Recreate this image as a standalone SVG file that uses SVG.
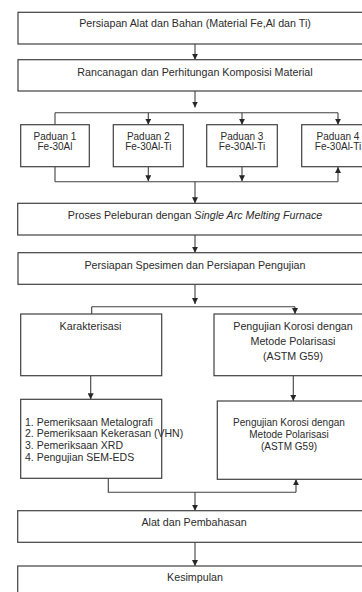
<svg xmlns="http://www.w3.org/2000/svg" width="362" height="592" viewBox="0 0 362 592">
<style>
.box{fill:#fff;stroke:#404040;stroke-width:1.2}
.ln{fill:none;stroke:#404040;stroke-width:1.1}
.ar{fill:none;stroke:#404040;stroke-width:1.1;marker-end:url(#ah)}
text{font-family:"Liberation Sans",Arial,sans-serif;fill:#2b2b2b;font-size:10.7px}
.c{text-anchor:middle}
.sm{font-size:10px}
.xs{font-size:10.5px}
</style>
<defs>
<marker id="ah" markerUnits="userSpaceOnUse" markerWidth="6" markerHeight="6" refX="6" refY="3" orient="auto">
<path d="M0,0 L6,3 L0,6 z" fill="#262626"/>
</marker>
</defs>
<rect width="362" height="592" fill="#fff"/>
<g id="connectors">
<path class="ar" d="M195,44 V59.7"/>
<path class="ar" d="M195,91 V107.5"/>
<path class="ln" d="M55,112.7 H338"/>
<path class="ln" d="M55,112.7 V124.7"/>
<path class="ar" d="M148.3,112.7 V124.7"/>
<path class="ar" d="M242,112.7 V124.7"/>
<path class="ar" d="M338,112.7 V124.7"/>
<path class="ln" d="M55,166.7 V181.7"/>
<path class="ar" d="M148.3,166.7 V181.2"/>
<path class="ar" d="M242,166.7 V181.2"/>
<path class="ar" d="M338,181.7 V167"/>
<path class="ln" d="M55,181.7 H338"/>
<path class="ar" d="M195,181.7 V203.3"/>
<path class="ar" d="M195,235 V252.7"/>
<path class="ar" d="M195,284.3 V304"/>
<path class="ln" d="M91.7,306.7 H295 M91.7,306.7 V314"/>
<path class="ar" d="M295,306.7 V314"/>
<path class="ar" d="M90.7,375.7 V399.3"/>
<path class="ar" d="M293.3,375.7 V401"/>
<path class="ln" d="M108.3,478.3 V492.3 H296"/>
<path class="ar" d="M296,492.3 V479.3"/>
<path class="ar" d="M195,492.3 V510.7"/>
<path class="ar" d="M195,542.3 V566"/>
</g>
<g id="n1">
<rect class="box" x="18" y="12.3" width="360" height="31.7"/>
<text class="c" x="195" y="27">Persiapan Alat dan Bahan (Material Fe,Al dan Ti)</text>
</g>
<g id="n2">
<rect class="box" x="18" y="59.7" width="360" height="31.3"/>
<text class="c" x="195" y="76">Rancanagan dan Perhitungan Komposisi Material</text>
</g>
<g id="p1">
<rect class="box" x="20.7" y="124.7" width="68.6" height="42"/>
<text class="c sm" x="55" y="139.5">Paduan 1</text>
<text class="c sm" x="55" y="150.3">Fe-30Al</text>
</g>
<g id="p2">
<rect class="box" x="113.3" y="124.7" width="70" height="42"/>
<text class="c sm" x="148.3" y="139.5">Paduan 2</text>
<text class="c sm" x="148.3" y="150.3">Fe-30Al-Ti</text>
</g>
<g id="p3">
<rect class="box" x="206.7" y="124.7" width="70.6" height="42"/>
<text class="c sm" x="242" y="139.5">Paduan 3</text>
<text class="c sm" x="242" y="150.3">Fe-30Al-Ti</text>
</g>
<g id="p4">
<rect class="box" x="301.7" y="124.7" width="72.3" height="42"/>
<text class="c sm" x="338" y="139.5">Paduan 4</text>
<text class="c sm" x="338" y="150.3">Fe-30Al-Ti</text>
</g>
<g id="n3">
<rect class="box" x="17.7" y="203.3" width="360" height="31.7"/>
<text class="c" x="195" y="218.7">Proses Peleburan dengan <tspan font-style="italic">Single Arc Melting Furnace</tspan></text>
</g>
<g id="n4">
<rect class="box" x="18" y="252.7" width="360" height="31.6"/>
<text class="c" x="195" y="268.7">Persiapan Spesimen dan Persiapan Pengujian</text>
</g>
<g id="k1">
<rect class="box" x="20.7" y="314" width="141" height="61.7"/>
<text class="c" x="90.5" y="330.4">Karakterisasi</text>
</g>
<g id="k2">
<rect class="box" x="214" y="314" width="160" height="61.7"/>
<text class="c" x="293" y="330.4">Pengujian Korosi dengan</text>
<text class="c" x="293" y="344.7">Metode Polarisasi</text>
<text class="c" x="293" y="359.7">(ASTM G59)</text>
</g>
<g id="l1">
<rect class="box" x="20.7" y="399.3" width="141" height="79"/>
<text class="xs" x="25" y="425.5">1. Pemeriksaan Metalografi</text>
<text class="xs" x="25" y="437.2">2. Pemeriksaan Kekerasan (VHN)</text>
<text class="xs" x="25" y="448.9">3. Pemeriksaan XRD</text>
<text class="xs" x="25" y="460.5">4. Pengujian SEM-EDS</text>
</g>
<g id="l2">
<rect class="box" x="217.3" y="401" width="150" height="78.3"/>
<text class="c sm" x="289" y="426.2">Pengujian Korosi dengan</text>
<text class="c sm" x="289" y="437.5">Metode Polarisasi</text>
<text class="c sm" x="289" y="449.5">(ASTM G59)</text>
</g>
<g id="n5">
<rect class="box" x="17.7" y="510.7" width="360" height="31.6"/>
<text class="c" x="194" y="526">Alat dan Pembahasan</text>
</g>
<g id="n6">
<rect class="box" x="17.7" y="566" width="360" height="40"/>
<text class="c" x="195" y="581">Kesimpulan</text>
</g>
</svg>
